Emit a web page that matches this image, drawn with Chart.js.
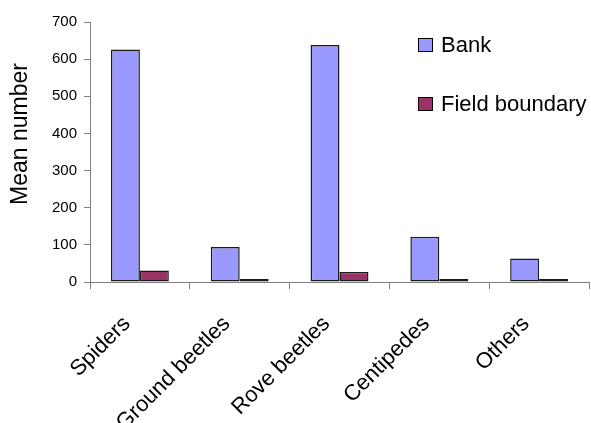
<!DOCTYPE html>
<html>
<head>
<meta charset="utf-8">
<script src="https://cdn.jsdelivr.net/npm/chart.js@4"></script>
<style>
  html, body { margin: 0; padding: 0; background: #fff; }
  #wrap { width: 591px; height: 423px; position: relative; }
</style>
</head>
<body>
<div id="wrap"><canvas id="myBarChart"></canvas></div>
<script>
const categories = ['Spiders', 'Ground beetles', 'Rove beetles', 'Centipedes', 'Others'];
const bank = [626, 94, 638, 122, 63];
const fieldBoundary = [31, 5, 27, 8, 7];
const yTicks = [0, 100, 200, 300, 400, 500, 600, 700];
const yTitle = 'Mean number';

const FONT = 'Arial, "Liberation Sans", sans-serif';

// legend drawn inside the plot area, top right, and the y title (sits a bit above centre in the original)
const extras = {
    id: 'extras',
    afterDraw(chart) {
        const ctx = chart.ctx;
        const x = 418, y0 = 45, gap = 59;
        ctx.save();
        ctx.font = '22px ' + FONT;
        ctx.textBaseline = 'middle';
        chart.data.datasets.forEach((ds, i) => {
            const y = y0 + i * gap;
            ctx.fillStyle = ds.backgroundColor;
            ctx.fillRect(x, y - 7, 15, 14);
            ctx.strokeStyle = '#000';
            ctx.lineWidth = 1;
            ctx.strokeRect(x + 0.5, y - 6.5, 14, 13);
            ctx.fillStyle = '#000';
            ctx.fillText(ds.label, x + 23, y + 1);
        });

        ctx.translate(21, 134);
        ctx.rotate(-Math.PI / 2);
        ctx.font = '23px ' + FONT;
        ctx.textAlign = 'center';
        ctx.fillText(yTitle, 0, 0);
        ctx.restore();
    }
};

var ctx = document.getElementById('myBarChart').getContext('2d');
var myBarChart = new Chart(ctx, {
    type: 'bar',
    data: {
        labels: categories,
        datasets: [{
            label: 'Bank',
            data: bank,
            backgroundColor: '#9999FF',
            borderColor: '#1a1a1a',
            borderWidth: 1.5,
            borderSkipped: false
        }, {
            label: 'Field boundary',
            data: fieldBoundary,
            backgroundColor: '#993366',
            borderColor: '#1a1a1a',
            borderWidth: 1.5,
            borderSkipped: false,
            minBarLength: 3
        }]
    },
    options: {
        responsive: true,
        maintainAspectRatio: false,
        animation: false,
        layout: { padding: { top: 22, right: 2, left: 0, bottom: 0 } },
        datasets: { bar: { categoryPercentage: 0.58, barPercentage: 1.0 } },
        plugins: {
            legend: { display: false },
            tooltip: { enabled: false }
        },
        scales: {
            x: {
                grid: { drawOnChartArea: false, drawTicks: true, tickLength: 7, color: '#808080', offset: true },
                border: { display: true, color: '#808080' },
                ticks: {
                    color: '#000',
                    font: { family: FONT, size: 22 },
                    minRotation: 45,
                    maxRotation: 45,
                    padding: 22,
                    labelOffset: -13,
                    autoSkip: false
                },
                afterFit: (axis) => { axis.height = 141; }
            },
            y: {
                min: 0,
                max: 700,
                afterBuildTicks: (axis) => { axis.ticks = yTicks.map(v => ({ value: v })); },
                grid: { drawOnChartArea: false, drawTicks: true, tickLength: 6, color: '#808080' },
                border: { display: true, color: '#808080' },
                ticks: {
                    color: '#000',
                    font: { family: FONT, size: 15 },
                    padding: 7
                },
                afterFit: (axis) => { axis.width = 90; }
            }
        }
    },
    plugins: [extras]
});
</script>
</body>
</html>
